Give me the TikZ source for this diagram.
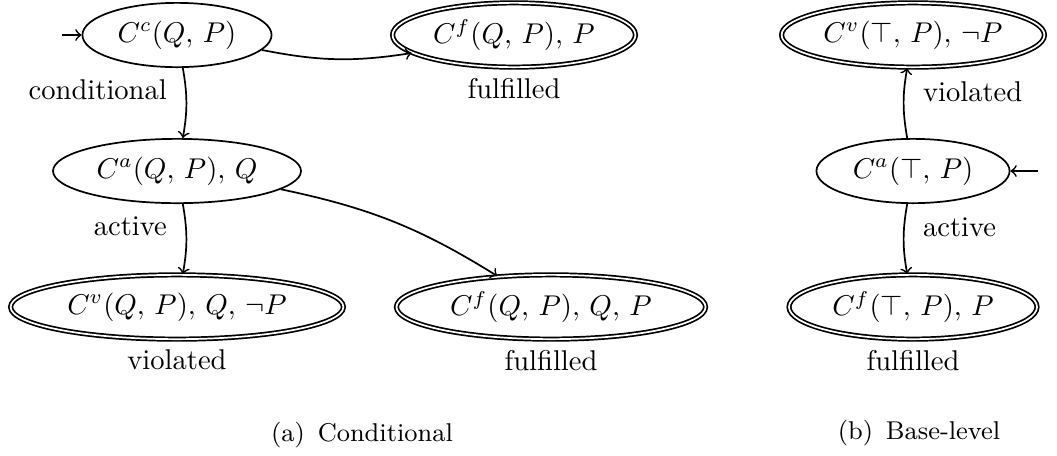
\documentclass[tikz,border=0pt]{standalone}
\usetikzlibrary{shapes.geometric,positioning}

\begin{document}
\begin{tikzpicture}[x=0.35pt,y=0.35pt,yscale=-1,xscale=1,
	stnode/.style={draw, ellipse, semithick, inner sep=0pt, minimum height=22.5pt},
	accnode/.style={stnode, double},
	trans/.style={->, semithick},
	edgelbl/.style={inner sep=3.33pt}]
	\useasboundingbox (0,0) rectangle (1057,455);

	% Text Node
	\node [stnode, minimum width=66.2pt] (cc) at (177,35) {$C^{c}(Q,\,P)$};
	% Text Node
	\node [accnode, minimum width=85pt] (cfa) at (514,35) {$C^{f}(Q,\,P),\,P$};
	% Text Node
	\node [stnode, minimum width=86.8pt] (ca) at (177,171) {$C^{a}(Q,\,P),\,Q$};
	% Text Node
	\node [accnode, minimum width=116.5pt] (cv) at (177,307) {$C^{v}(Q,\,P),\,Q,\,\neg P$};
	% Text Node
	\node [accnode, minimum width=108.2pt] (cfb) at (551,307) {$C^{f}(Q,\,P),\,Q,\,P$};

	% Text Node
	\node [accnode, minimum width=92pt] (rv) at (913,35) {$C^{v}(\top,\,P),\,\neg P$};
	% Text Node
	\node [stnode, minimum width=67.6pt] (ra) at (913,171) {$C^{a}(\top,\,P)$};
	% Text Node
	\node [accnode, minimum width=86.8pt] (rf) at (913,307) {$C^{f}(\top,\,P),\,P$};

	% Text Node
	\node [below=0pt of cfa] (lcfa) {fulfilled};
	\node [below=0pt of cv] (lcv) {violated};
	\node [below=0pt of cfb] (lcfb) {fulfilled};
	\node [below=0pt of rf] (lrf) {fulfilled};

	% start arrows
	\coordinate (ccin) at (62,35);
	\coordinate (rain) at (1038,171);
	\draw [trans] (ccin) -- (cc);
	\draw [trans] (rain) -- (ra);

	% Connection (bends flipped by yscale=-1)
	\draw [trans] (cc) to [bend left=10] (cfa);
	\draw [trans] (cc) to [bend right=10] node [edgelbl, pos=.3, left=3pt] (lcc) {conditional} (ca);
	\draw [trans] (ca) to [bend right=10] node [edgelbl, pos=.3, left=3pt] (lca) {active} (cv);
	\draw [trans] (ca) to [bend right=10] (cfb);
	% Connection
	\draw [trans] (ra) to [bend right=10] node [edgelbl, pos=.67, right=3pt] (lrv) {violated} (rv);
	\draw [trans] (ra) to [bend left=10] node [edgelbl, pos=.32, right=3pt] (lra) {active} (rf);

	% Captions
	\node [font=\small] (capa) at (362,435) {(a)\hspace{.5em}Conditional};
	\node [font=\small] (capb) at (919,433) {(b)\hspace{.5em}Base-level};

\end{tikzpicture}
\end{document}
